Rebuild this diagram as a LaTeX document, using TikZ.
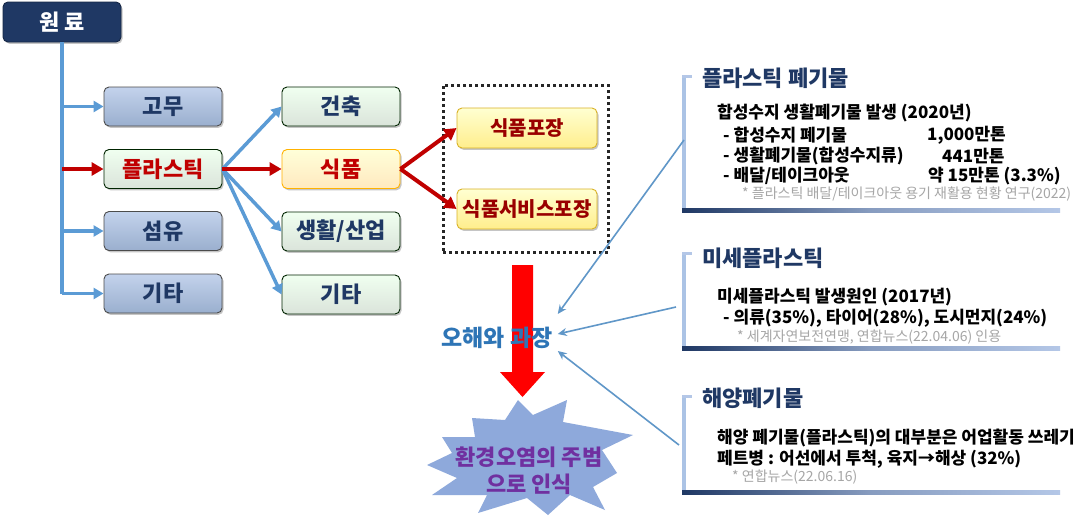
\documentclass[tikz,border=0pt]{standalone}
\usepackage{fontspec}
\setmainfont{Noto Sans CJK KR}
\usetikzlibrary{arrows.meta,shadows,calc}
\definecolor{navy}{HTML}{1F3864}
\definecolor{lblue}{HTML}{B4C7E7}
\definecolor{ablue}{HTML}{5B9BD5}
\definecolor{dred}{HTML}{C00000}
\definecolor{tblue}{HTML}{2E75B6}
\definecolor{purp}{HTML}{7030A0}
\definecolor{starc}{HTML}{8EA9DB}
\definecolor{fgray}{HTML}{A6A6A6}
\tikzset{
  fs/.style={font=\bfseries\fontsize{#1}{#1}\selectfont},
  basebox/.style={rounded corners=5pt, minimum width=118pt, minimum height=39pt,
    inner sep=0pt, line width=0.9pt,
    drop shadow={shadow xshift=1.5pt, shadow yshift=-1.8pt, opacity=0.45}},
  bluebox/.style={basebox, draw=black!70, top color=lblue!80!white, bottom color=lblue!90!ablue!90!black,
    text=navy, fs=22},
  greenbox/.style={basebox, draw=black!65!green!40!black, top color=green!6!white, bottom color=green!15!gray!25!white,
    text=navy, fs=22},
  foodbox/.style={basebox, draw=orange!60!yellow, top color=yellow!15!white, bottom color=yellow!30!orange!25!white,
    text=dred, fs=22},
  packbox/.style={basebox, minimum width=140pt, minimum height=40pt, draw=brown!60!yellow,
    top color=yellow!18!white, bottom color=orange!30!yellow!45!white, text=red!60!black, fs=20},
  barrow/.style={draw=ablue, line width=3.5pt, -{Triangle[length=10pt,width=11pt]}},
  rarrow/.style={draw=dred, line width=4pt, -{Triangle[length=12pt,width=13pt]}},
  tarrow/.style={draw=ablue!85!gray, line width=1.6pt, -{Stealth[length=9pt,width=8pt]}},
  ttl/.style={anchor=west, inner sep=0pt, text=navy, fs=22},
  body/.style={anchor=west, inner sep=0pt, text=black, fs=17},
  fnote/.style={anchor=west, inner sep=0pt, text=fgray, font=\fontsize{14}{14}\selectfont},
}
\begin{document}
\begin{tikzpicture}[x=1pt,y=-1pt]
\useasboundingbox (0,0) rectangle (1078,520);
\fill[white] (0,0) rectangle (1078,520);

% source
\node[basebox, minimum width=118pt, minimum height=40pt, fill=navy, draw=navy!70!black, text=white, fs=22] (won) at (62,22) {원 료};

% left column
\node[bluebox] (gomu) at (163,106.5) {고무};
\node[greenbox, text=dred] (plast) at (163,169) {플라스틱};
\node[bluebox] (sum) at (163,231) {섬유};
\node[bluebox] (gita1) at (163,293.5) {기타};

% middle column
\node[greenbox] (geon) at (341,106.5) {건축};
\node[foodbox] (food) at (341,169) {식품};
\node[greenbox] (life) at (341,231.5) {생활/산업};
\node[greenbox] (gita2) at (341,294.5) {기타};

% packaging
\node[draw=black!85, line width=3pt, dash pattern=on 3pt off 3pt, minimum width=165pt, minimum height=167pt, inner sep=0pt] (dotbox) at (525.5,168.5) {};
\node[packbox] (pack1) at (527,128) {식품포장};
\node[packbox] (pack2) at (527,209) {식품서비스포장};

% left connectors
\draw[draw=ablue, line width=4pt] (won.south) -- (won.south |- gita1.west);
\draw[barrow] (won.south |- gomu.west) -- (gomu.west);
\draw[rarrow] (won.south |- plast.west) -- (plast.west);
\draw[barrow] (won.south |- sum.west) -- (sum.west);
\draw[barrow] (won.south |- gita1.west) -- (gita1.west);

% middle connectors
\draw[barrow] (plast.east) -- (geon.west);
\draw[barrow] (plast.east) -- (life.west);
\draw[barrow] (plast.east) -- (gita2.west);
\draw[rarrow] (plast.east) -- (food.west);
\draw[rarrow] (food.east) -- (pack1.west);
\draw[rarrow] (food.east) -- (pack2.west);

% big red arrow
\fill[red] (512,265) -- (533,265) -- (533,372) -- (545,372) -- (522.5,397) -- (500,372) -- (512,372) -- cycle;

% misconception text
\node[text=tblue, fs=23, inner sep=2pt] (ohae) at (497,338) {오해와 과장};

% starburst
\fill[starc] (518,400) -- (533,415) -- (567,400) -- (563,422) -- (633,435) -- (602,450)
  -- (617,473) -- (593,487) -- (605,510) -- (570,495) -- (548,515) -- (527,498)
  -- (478,513) -- (487,495) -- (432,495) -- (457,478) -- (427,465) -- (452,453)
  -- (442,437) -- (475,437) -- (472,418) -- (505,420) -- cycle;
\node[text=purp, fs=22, align=center, inner sep=0pt] (star) at (529,471)
  {환경오염의 주범\\[5pt]으로 인식};

% panel brackets
\foreach \ya/\yb in {75/210, 252/348, 395/492}{
  \draw[line width=3.5pt, draw=lblue!90!ablue] (684,\ya) -- (684,\yb);
  \draw[line width=3pt, draw=lblue] (682.3,\ya+1.5) -- (692,\ya+1.5);
  \shade[left color=navy, right color=lblue, middle color=lblue!70!navy] (682,\yb-2) rectangle (1060,\yb+2.5);
}
\coordinate (p1) at (684,140);
\coordinate (p2) at (676,307);
\coordinate (p3) at (679,445);

% panel 1
\node[ttl] (t1) at (702,78) {플라스틱 폐기물};
\node[body] (b11) at (717,113) {합성수지 생활폐기물 발생 (2020년)};
\node[body] (b12) at (723,135) {- 합성수지 폐기물};
\node[body] (v12) at (927,135) {1,000만톤};
\node[body] (b13) at (723,156) {- 생활폐기물(합성수지류)};
\node[body] (v13) at (942,156) {441만톤};
\node[body] (b14) at (723,176) {- 배달/테이크아웃};
\node[body] (v14) at (928,176) {약 15만톤 (3.3\%)};
\node[fnote] (f1) at (742,194) {* 플라스틱 배달/테이크아웃 용기 재활용 현황 연구(2022)};

% panel 2
\node[ttl] (t2) at (702,258) {미세플라스틱};
\node[body] (b21) at (717,297) {미세플라스틱 발생원인 (2017년)};
\node[body] (b22) at (723,318) {- 의류(35\%), 타이어(28\%), 도시먼지(24\%)};
\node[fnote] (f2) at (737,337) {* 세계자연보전연맹, 연합뉴스(22.04.06) 인용};

% panel 3
\node[ttl] (t3) at (702,398) {해양폐기물};
\node[body] (b31) at (717,438) {해양 폐기물(플라스틱)의 대부분은 어업활동 쓰레기};
\node[body] (b32) at (717,459) {페트병 : 어선에서 투척, 육지→해상 (32\%)};
\node[fnote] (f3) at (732,477) {* 연합뉴스(22.06.16)};

% thin arrows
\draw[tarrow] (p1) -- ($(ohae.east)+(3,-24)$);
\draw[tarrow] (p2) -- ($(ohae.east)+(3,-4)$);
\draw[tarrow] (p3) -- ($(ohae.east)+(3,13)$);
\end{tikzpicture}
\end{document}
